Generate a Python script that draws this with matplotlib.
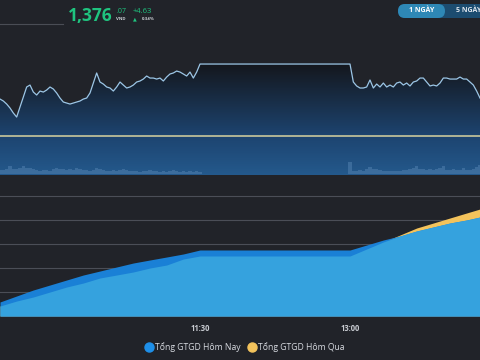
import numpy as np
import matplotlib
matplotlib.use("Agg")
import matplotlib.pyplot as plt
from matplotlib.colors import LinearSegmentedColormap, Normalize
from matplotlib.patches import FancyBboxPatch
from matplotlib.lines import Line2D
from matplotlib.transforms import IdentityTransform

plt.rcParams['font.family'] = ['Open Sans', 'DejaVu Sans']

BG = '#212329'
GREEN = '#1fc47f'
TODAY_BLUE = '#1a80d6'
OVERLAP_BLUE = '#35a2de'
YESTERDAY_YELLOW = '#f3c35c'

# --- data -------------------------------------------------------------
ref_price = 1371.44

# index price, every 2 minutes: 09:30 -> 11:30 and 13:00 -> 14:18
price_morning = [
    1376.19, 1375.94, 1375.55, 1375.04, 1374.40, 1373.88, 1375.17, 1376.45,
    1377.74, 1377.99, 1377.09, 1376.71, 1377.22, 1377.09, 1377.35, 1377.74,
    1377.48, 1376.97, 1376.32, 1375.81, 1375.68, 1375.55, 1375.68, 1375.81,
    1375.94, 1376.19, 1376.32, 1376.97, 1378.25, 1379.54, 1378.38, 1378.12,
    1377.74, 1377.61, 1377.22, 1377.74, 1378.38, 1377.99, 1377.61, 1377.74,
    1377.99, 1378.38, 1378.51, 1378.76, 1379.15, 1378.89, 1378.89, 1378.76,
    1378.89, 1378.51, 1379.02, 1379.41, 1379.54, 1379.79, 1379.66, 1379.41,
    1379.15, 1379.66, 1378.89, 1379.66, 1380.69,
]
price_afternoon = [
    1380.69, 1378.38, 1377.87, 1377.61, 1377.61, 1377.74, 1378.64, 1377.61,
    1378.12, 1377.74, 1378.25, 1377.74, 1377.99, 1377.74, 1378.25, 1378.38,
    1377.99, 1378.25, 1377.87, 1378.38, 1378.51, 1378.89, 1378.89, 1378.38,
    1377.87, 1377.99, 1377.87, 1378.25, 1378.89, 1378.89, 1378.76, 1378.76,
    1378.76, 1379.02, 1378.76, 1378.76, 1378.38, 1377.99, 1377.22, 1376.32,
]
vol_morning = [
    4, 4, 5, 8, 5, 5, 6, 8, 6, 6, 5, 4, 3, 4, 4, 3, 5, 6, 5, 5, 4, 5, 4, 6,
    5, 4, 4, 3, 4, 6, 5, 4, 3, 3, 4, 3, 4, 5, 4, 3, 3, 3, 2, 3, 3, 4, 3, 3,
    2, 3, 2, 3, 4, 3, 2, 3, 2, 3, 2, 3, 2,
]
vol_afternoon = [
    12, 3, 3, 4, 3, 5, 7, 5, 5, 4, 3, 3, 3, 3, 3, 3, 4, 4, 5, 6, 8, 5, 5, 4,
    5, 4, 5, 6, 8, 4, 4, 5, 4, 4, 6, 4, 4, 5, 7, 9,
]

# cumulative trading value (nghin ty), every 10 minutes
cum_times = ["09:30", "09:40", "09:50", "10:00", "10:10", "10:20", "10:30",
             "10:40", "10:50", "11:00", "11:10", "11:20", "11:30",
             "13:00", "13:10", "13:20", "13:30", "13:40", "13:50", "14:00",
             "14:10", "14:18"]
cum_today = [2.92, 4.17, 5.42, 6.46, 7.50, 8.54, 9.37, 10.21, 11.04, 11.67,
             12.29, 12.92, 13.75,
             13.75, 14.79, 15.83, 16.67, 17.71, 18.54, 19.37, 20.00, 20.62]
cum_yesterday = [2.08, 3.12, 3.96, 5.00, 6.04, 6.87, 7.92, 8.54, 9.17, 10.00,
                 10.62, 11.87, 12.50,
                 12.50, 13.96, 15.42, 16.87, 18.33, 19.37, 20.42, 21.46, 22.29]

xtick_labels = ["11:30", "13:00"]
legend_labels = ["Tổng GTGD Hôm Nay", "Tổng GTGD Hôm Qua"]


def minutes(s):
    h, m = s.split(":")
    return int(h) * 60 + int(m)


t_price = np.concatenate([minutes("09:30") + 2 * np.arange(len(price_morning)),
                          minutes("13:00") + 2 * np.arange(len(price_afternoon))])
price = np.array(price_morning + price_afternoon)
volume = np.array(vol_morning + vol_afternoon)
t_cum = np.array([minutes(s) for s in cum_times])
today = np.array(cum_today)
yesterday = np.array(cum_yesterday)

x0, x1 = minutes("09:30"), minutes("14:18")

# --- figure -----------------------------------------------------------
W, H = 480, 360
fig = plt.figure(figsize=(4.8, 3.6), dpi=100, facecolor=BG)


def axes_px(top, bottom):
    return fig.add_axes([0, 1 - bottom / H, 1, (bottom - top) / H])


# price panel
ax1 = axes_px(40, 175)
ax1.set_facecolor(BG)
p_low, p_high = 1366.43, 1383.78
ax1.set_xlim(x0, x1)
ax1.set_ylim(p_low, p_high)
ax1.axis('off')

poly = ax1.fill_between(t_price, p_low - 1, price, facecolor='none', edgecolor='none')
top_p = price.max()
cmap = LinearSegmentedColormap.from_list(
    'g', [(0, '#24598c'), ((ref_price - p_low) / (top_p - p_low), '#1d4470'), (1, '#14171d')])
grad = np.linspace(p_low, top_p, 256).reshape(-1, 1)
im = ax1.imshow(grad, extent=[x0, x1, p_low, top_p], origin='lower', aspect='auto',
                cmap=cmap, norm=Normalize(p_low, top_p), zorder=1)
im.set_clip_path(poly.get_paths()[0], ax1.transData)
ax1.plot(t_price, price, color='#9cc6e6', lw=0.9, zorder=3)
ax1.axhline(ref_price, color='#d9d3a0', lw=1.1, zorder=3)

# volume
axv = axes_px(137, 175)
axv.patch.set_alpha(0)
axv.set_xlim(x0, x1)
axv.set_ylim(-1.5, 36.5)
axv.axis('off')
axv.bar(t_price, volume, width=2, color='#4d7cab', alpha=0.6, lw=0)

# cumulative value panel
ax2 = axes_px(180, 316)
ax2.set_facecolor(BG)
ax2.set_xlim(x0, x1)
ax2.set_ylim(0, 28.33)
for s in ax2.spines.values():
    s.set_visible(False)
ax2.set_yticks([5, 10, 15, 20, 25])
ax2.grid(axis='y', color='#4b4e57', lw=0.8)
ax2.tick_params(axis='y', left=False, labelleft=False)
ax2.set_axisbelow(True)
ax2.fill_between(t_cum, 0, yesterday, color=YESTERDAY_YELLOW, lw=0)
ax2.fill_between(t_cum, 0, today, color=TODAY_BLUE, lw=0)
ax2.fill_between(t_cum, 0, np.minimum(today, yesterday), color=OVERLAP_BLUE, lw=0)
ax2.set_xticks([minutes(s) for s in xtick_labels])
ax2.set_xticklabels(xtick_labels, fontsize=5.5, fontweight='bold', color='#c9ccd2')
ax2.tick_params(axis='x', length=0, pad=5.5)

# legend
handles = [Line2D([], [], marker='o', ls='', markersize=6.5, color='#1e8fe8'),
           Line2D([], [], marker='o', ls='', markersize=6.5, color=YESTERDAY_YELLOW)]
fig.legend(handles, legend_labels, loc='center', bbox_to_anchor=(0.51, 1 - 347 / H),
           ncol=2, frameon=False, fontsize=6.2, labelcolor='#d7dae0',
           handletextpad=0.3, columnspacing=0.8, handlelength=0.9)

# header
fig.add_artist(Line2D([0, 63 / W], [1 - 24 / H, 1 - 24 / H], color='#4a4d55', lw=0.8))
fig.text(68 / W, 1 - 21 / H, "1,376", fontsize=12.5, fontweight='bold', color=GREEN)
fig.text(116 / W, 1 - 13 / H, ".07", fontsize=5, color=GREEN)
fig.text(116 / W, 1 - 20 / H, "VND", fontsize=3.2, color='#c8ccd2', fontweight='bold')
fig.text(133 / W, 1 - 13 / H, "+4.63", fontsize=5.5, color=GREEN)
fig.text(133 / W, 1 - 20 / H, "▲", fontsize=3.5, color=GREEN, family='DejaVu Sans')
fig.text(142 / W, 1 - 20 / H, "0.34%", fontsize=3.2, color='#c8ccd2', fontweight='bold')

# period buttons
fig.add_artist(FancyBboxPatch((398, H - 18), 110, 14, boxstyle="round,pad=0,rounding_size=7",
                              transform=IdentityTransform(), facecolor='#1c4c70', lw=0))
fig.add_artist(FancyBboxPatch((398, H - 18), 47, 14, boxstyle="round,pad=0,rounding_size=7",
                              transform=IdentityTransform(), facecolor='#2e88b6', lw=0))
fig.text(421.5 / W, 1 - 11 / H, "1 NGÀY", fontsize=5, fontweight='bold', color='white',
         ha='center', va='center')
fig.text(456 / W, 1 - 11 / H, "5 NGÀY", fontsize=5, fontweight='bold', color='#dfe6ee',
         ha='left', va='center')

fig.savefig("out.png", dpi=100, facecolor=BG)
